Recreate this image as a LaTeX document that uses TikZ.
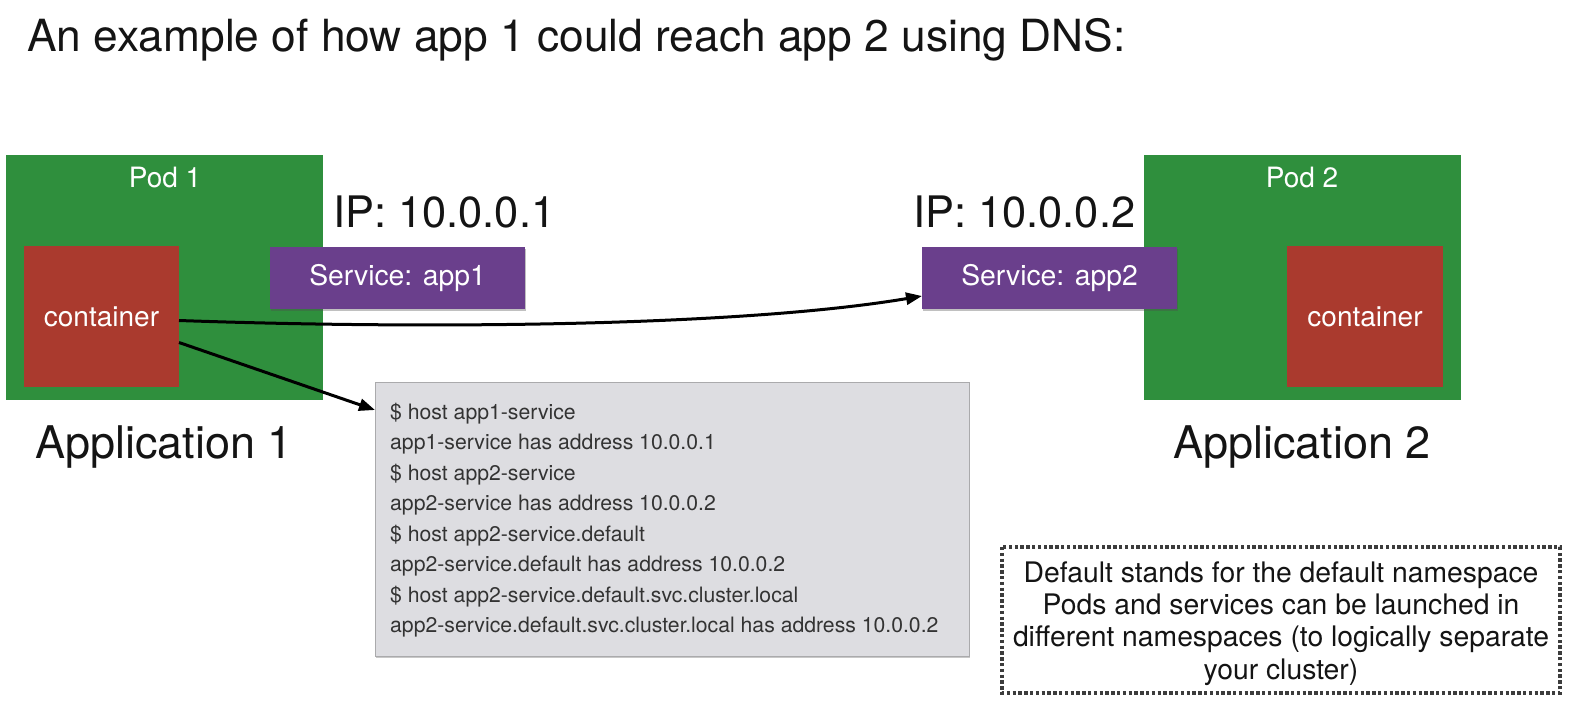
\documentclass[tikz,border=0pt]{standalone}
\usepackage{fontspec}
\setmainfont{TeX Gyre Heros}
\usetikzlibrary{arrows.meta,shadows}
\definecolor{podgreen}{RGB}{47,143,61}
\definecolor{ctred}{RGB}{170,58,46}
\definecolor{svcpurple}{RGB}{106,63,140}
\definecolor{dnsgray}{RGB}{221,221,225}
\definecolor{dnsborder}{RGB}{170,170,172}
\definecolor{ink}{RGB}{20,20,20}
\definecolor{dottedgray}{RGB}{60,60,60}
\newcommand{\fsz}[2]{\fontsize{#1}{#2}\selectfont}
\begin{document}
\begin{tikzpicture}[x=1pt,y=-1pt,
  box/.style={inner sep=0pt, outer sep=0pt, anchor=north west},
  podbox/.style={box, fill=podgreen},
  ctrbox/.style={box, fill=ctred, text=white, font=\fsz{28}{32}},
  svcbox/.style={box, fill=svcpurple, text=white, font=\fsz{28.3}{32},
    drop shadow={shadow xshift=1pt, shadow yshift=-2pt, opacity=0.35, fill=black!70}},
  dnsbox/.style={box, fill=dnsgray, draw=dnsborder, line width=0.8pt,
    drop shadow={shadow xshift=1pt, shadow yshift=-2pt, opacity=0.3, fill=black!70}},
  notebox/.style={box},
  noteborder/.style={draw=dottedgray, line width=3.4pt, dash pattern=on 3.4pt off 2.4pt},
  podlbl/.style={anchor=base, inner sep=0pt, text=white, font=\fsz{28}{32}},
  iplbl/.style={anchor=west, inner sep=0pt, text=ink, font=\fsz{43.4}{48}},
  applbl/.style={anchor=base, inner sep=0pt, text=ink, font=\fsz{45}{50}},
  dnsline/.style={anchor=base west, inner sep=0pt, text=black!80, font=\fsz{21.2}{24}},
  noteline/.style={anchor=base, inner sep=0pt, text=ink, font=\fsz{28.3}{32}},
  arr/.style={line width=3pt, draw=black, -{Triangle[length=16pt,width=12pt]}}
]
\useasboundingbox (0,0) rectangle (1570,711);
\fill[white] (0,0) rectangle (1570,711);

% title
\node[anchor=base west, inner sep=0pt, text=ink, font=\fsz{44.3}{50}] (title) at (27,52)
  {An example of how app 1 could reach app 2 using DNS:};

% pod 1
\node[podbox, minimum width=317pt, minimum height=245pt] (pod1) at (6,155) {};
\node[podlbl] (pod1lbl) at (165,188) {Pod 1};
\node[ctrbox, minimum width=155pt, minimum height=141pt] (c1) at (24,246) {container};
\node[svcbox, minimum width=255pt, minimum height=62pt] (s1) at (270,247) {Service: app1};
\node[iplbl] (ip1) at (333,212) {IP: 10.0.0.1};
\node[applbl] (app1) at (164,458) {Application 1};

% pod 2
\node[podbox, minimum width=317pt, minimum height=245pt] (pod2) at (1144,155) {};
\node[podlbl] (pod2lbl) at (1302,188) {Pod 2};
\node[ctrbox, minimum width=156pt, minimum height=141pt] (c2) at (1287,246) {container};
\node[svcbox, minimum width=255pt, minimum height=62pt] (s2) at (922,247) {Service: app2};
\node[iplbl] (ip2) at (913,212) {IP: 10.0.0.2};
\node[applbl] (app2) at (1302,458) {Application 2};

% DNS box
\node[dnsbox, minimum width=594pt, minimum height=274pt] (dns) at (375,382) {};
\foreach \t [count=\i] in {
  {\$ host app1-service},
  {app1-service has address 10.0.0.1},
  {\$ host app2-service},
  {app2-service has address 10.0.0.2},
  {\$ host app2-service.default},
  {app2-service.default has address 10.0.0.2},
  {\$ host app2-service.default.svc.cluster.local},
  {app2-service.default.svc.cluster.local has address 10.0.0.2}}
  \node[dnsline] (dl\i) at (390,{419+30.57*(\i-1)}) {\t};

% note box
\node[notebox, minimum width=558pt, minimum height=146pt] (note) at (1002,547) {};
\draw[noteborder] (note.north west) rectangle (note.south east);
\foreach \t [count=\i] in {
  {Default stands for the default namespace},
  {Pods and services can be launched in},
  {different namespaces (to logically separate},
  {your cluster)}}
  \node[noteline] (nl\i) at (1281,{582+32.4*(\i-1)}) {\t};

% connectors
\draw[arr] ([yshift=-4pt]c1.east) .. controls (450,330) and (750,325) .. ([yshift=-18pt]s2.west);
\draw[arr] ([yshift=-26pt]c1.east) -- ([yshift=-28pt]dns.north west);
\end{tikzpicture}
\end{document}
